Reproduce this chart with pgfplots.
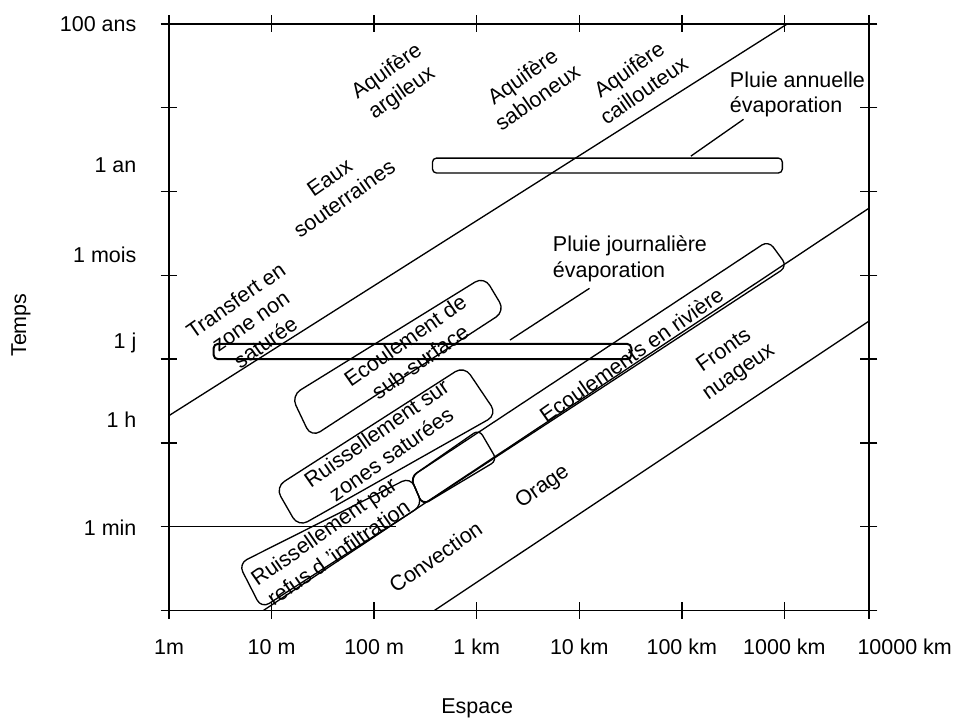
\documentclass[border=0pt]{standalone}
\usepackage{fontspec}
\setmainfont{Liberation Sans}
\usepackage{pgfplots}
\pgfplotsset{compat=1.18}
\begin{document}
\fontsize{16.2pt}{19.5pt}\selectfont
\begin{tikzpicture}
\begin{axis}[name=ax, scale only axis, width=528pt, height=442.5pt,
 xmin=0, xmax=6.824, ymin=0, ymax=7,
 axis line style={line width=1.3pt},
 tick align=center, major tick length=12.75pt,
 every tick/.style={black, line width=1.1pt},
 typeset ticklabels with strut,
 xtick={0,...,6}, xticklabels={1m,10 m,100 m,1 km,10 km,100 km,1000 km},
 extra x ticks={6.824}, extra x tick labels={10000 km},
 extra x tick style={xticklabel style={xshift=27pt}},
 ytick={0,...,7}, yticklabels={},
 extra y ticks={0.985,2.278,3.215,4.247,5.315,7},
 extra y tick labels={1 min,1 h,1 j,1 mois,1 an,100 ans},
 extra y tick style={major tick length=0pt, yticklabel style={xshift=-19pt, yshift=-2pt}},
 xticklabel style={yshift=-8pt},
 xlabel={Espace}, ylabel={Temps},
 xlabel style={at={(axis description cs:0.4403,-0.1661)}, anchor=center},
 ylabel style={at={(axis description cs:-0.2116,0.4864)}, anchor=center},
 clip=false]
% diagonal limit lines
\addplot[black, line width=1pt] coordinates {(0,2.325) (6.029,7)};
\addplot[black, line width=1pt] coordinates {(0.921,0) (6.824,4.80)};
\addplot[black, line width=1pt] coordinates {(2.588,0) (6.824,3.452)};
% 1 min line
\addplot[black, line width=1pt] coordinates {(0,1) (2.21,1)};
% leader lines
\addplot[black, line width=1pt] coordinates {(5.089,5.422) (5.602,5.861)};
\addplot[black, line width=1pt] coordinates {(3.325,3.227) (4.100,3.844)};
% horizontal boxes
\addplot[black, line width=1pt, rounded corners=3pt] coordinates {(2.569,5.22) (5.98,5.22) (5.98,5.398) (2.569,5.398)} -- cycle;
\addplot[black, line width=1.5pt, rounded corners=3pt] coordinates {(0.436,3.0) (4.507,3.0) (4.507,3.18) (0.436,3.18)} -- cycle;
% sub-surface box
\addplot[black, line width=1pt, rounded corners=8pt] coordinates {(1.192,2.563) (3.073,3.986) (3.276,3.571) (1.386,2.064)} -- cycle;
% zones saturees box
\addplot[black, line width=1pt, rounded corners=8pt] coordinates {(1.037,1.471) (2.879,2.918) (3.199,2.337) (1.260,0.997)} -- cycle;
% river box
\addplot[black, line width=1pt, rounded corners=6pt] coordinates {(2.355,1.590) (5.845,4.413) (6.029,4.105) (2.472,1.258)} -- cycle;
% small box
\addplot[black, line width=1pt, rounded corners=5pt] coordinates {(2.355,1.590) (3.024,2.159) (3.199,1.791) (2.472,1.258)} -- cycle;
% refus box
\addplot[black, line width=1pt, rounded corners=7pt] coordinates {(0.678,0.558) (2.355,1.590) (2.472,1.258) (0.901,0.024)} -- cycle;
% texts
\node[rotate=35, align=center] at (axis cs:2.200,6.300) {Aquifère\\argileux};
\node[rotate=35, align=center] at (axis cs:3.518,6.252) {Aquifère\\sabloneux};
\node[rotate=35, align=center] at (axis cs:4.556,6.335) {Aquifère\\caillouteux};
\node[align=left, anchor=west, inner sep=0pt] at (axis cs:5.467,6.157) {Pluie annuelle\\évaporation};
\node[rotate=35, align=center] at (axis cs:1.638,5.042) {Eaux\\souterraines};
\node[rotate=35, align=center] at (axis cs:0.795,3.452) {Transfert en\\zone non\\saturée};
\node[align=left, anchor=west, inner sep=0pt] at (axis cs:3.741,4.200) {Pluie journalière\\évaporation};
\node[rotate=35, align=center] at (axis cs:2.375,3.096) {Ecoulement de\\sub-surface};
\node[rotate=35, align=center] at (axis cs:2.094,1.993) {Ruissellement sur\\zones saturées};
\node[rotate=35, align=center] at (axis cs:1.580,0.819) {Ruissellement par\\refus d ’infiltration};
\node[rotate=35] at (axis cs:4.507,3.049) {Ecoulements en rivière};
\node[rotate=35, align=center] at (axis cs:5.486,2.966) {Fronts\\nuageux};
\node[rotate=35] at (axis cs:3.644,1.471) {Orage};
\node[rotate=35] at (axis cs:2.598,0.641) {Convection};
\end{axis}
\path ([shift={(-127.5pt,-86.25pt)}]ax.south west) rectangle ([shift={(591.75pt,460.5pt)}]ax.south west);
\end{tikzpicture}
\end{document}
